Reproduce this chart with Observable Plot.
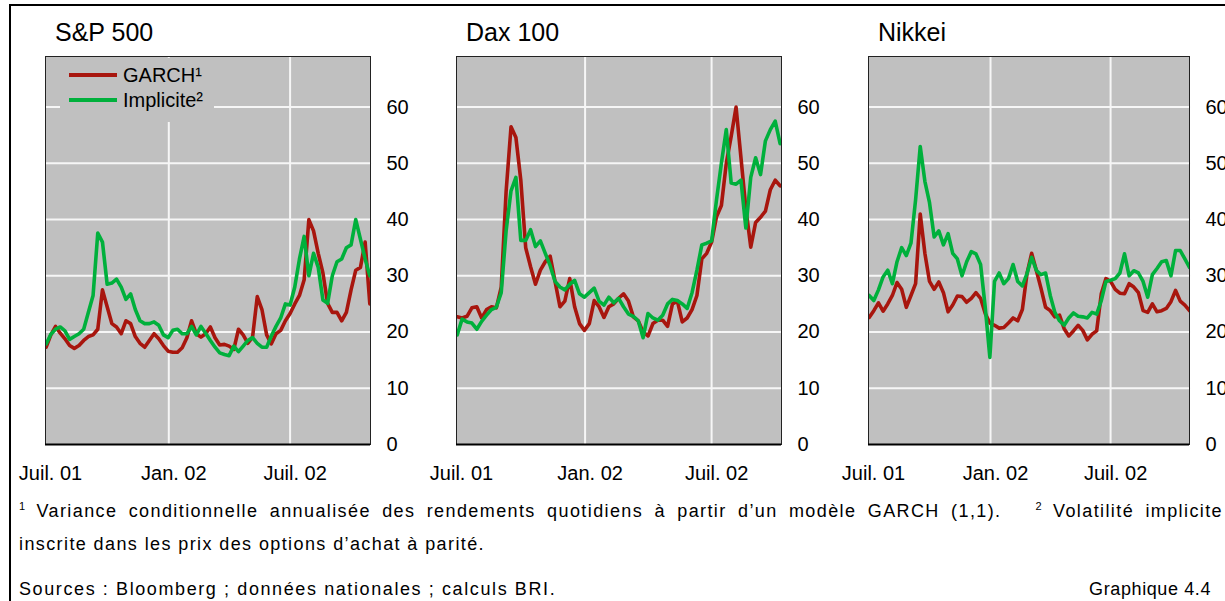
<!DOCTYPE html>
<html lang="fr">
<head>
<meta charset="utf-8">
<script src="https://cdn.jsdelivr.net/npm/d3@7"></script>
<script src="https://cdn.jsdelivr.net/npm/@observablehq/plot@0.6"></script>
<style>
  body { margin: 0; background: #fff; font-family: Arial, "Liberation Sans", sans-serif; color: #000; }
  #page { position: relative; width: 1225px; height: 601px; overflow: hidden; }
  .vline { position: absolute; left: 9px; top: 4px; width: 2px; height: 597px; background: #000; }
  .hline { position: absolute; left: 9px; top: 4px; width: 1216px; height: 2px; background: #000; }
  .panel { position: absolute; top: 0; }
  .panel svg { overflow: visible; max-width: none; display: block; }
  .title { position: absolute; top: 20px; font-size: 25px; line-height: 1; white-space: nowrap; }
  .legend { position: absolute; left: 60px; top: 58px; width: 154px; height: 64px; background: #c0c0c0; }
  .legend .row { position: absolute; left: 0; height: 24px; width: 154px; }
  .legend .sw { position: absolute; left: 9px; top: 10px; width: 48px; height: 4px; }
  .legend .lb { position: absolute; left: 63px; top: 0; font-size: 20px; line-height: 24px; white-space: nowrap; }
  .notes { position: absolute; left: 19px; top: 495px; width: 1204px; font-size: 18px;
           line-height: 33px; letter-spacing: 1.4px; }
  .notes sup { font-size: 11px; vertical-align: 7px; line-height: 0; letter-spacing: 0; }
  .l1 { text-align: justify; text-align-last: justify; white-space: nowrap; }
  .src { position: absolute; left: 19px; top: 573px; font-size: 18px; line-height: 33px; letter-spacing: 1.6px; }
  .ref { position: absolute; right: 14px; top: 573px; font-size: 18px; line-height: 33px; letter-spacing: 0.6px; }
</style>
</head>
<body>
<div id="page">
  <div class="vline"></div>
  <div class="hline"></div>
</div>
<script>
// Weekly observations, starting Monday 2 July 2001 (annualised volatility, %)
const firstWeek = "2001-07-02";

const spGarch = [17.3,19.5,21.0,19.8,18.8,17.6,17.1,17.6,18.5,19.2,
  19.5,20.5,27.5,24.5,21.5,20.9,19.7,22.0,21.5,19.2,
  18.0,17.3,18.5,19.7,18.8,17.6,16.6,16.4,16.4,17.2,
  19.0,22.0,19.7,19.1,19.7,20.9,19.0,17.7,17.8,17.5,
  16.9,20.5,19.5,18.0,19.1,26.3,24.0,19.5,17.9,19.7,
  20.3,22.0,23.3,25.0,26.5,29.3,40.0,38.0,34.0,30.5,
  25.1,23.5,23.5,22.0,23.5,27.5,31.0,31.5,36.0,25.0];
const spImplied = [17.9,19.6,20.5,20.9,20.2,18.7,19.2,19.7,20.5,23.5,
  26.5,37.6,36.0,28.5,28.7,29.4,28.0,25.8,26.8,24.0,
  22.0,21.5,21.5,21.8,21.2,19.5,19.0,20.3,20.5,19.7,
  19.7,21.0,19.5,21.0,19.8,18.5,17.3,16.3,16.0,15.8,
  17.5,16.5,17.5,18.5,19.0,18.0,17.3,17.3,19.3,21.0,
  22.5,25.0,24.8,28.0,33.0,37.0,30.0,34.0,31.5,25.7,
  25.1,30.0,32.5,33.0,35.0,35.5,40.0,36.5,33.0,30.0];

const daxGarch = [22.7,22.5,22.8,24.3,24.5,22.5,24.0,24.5,24.3,28.0,
  45.0,56.5,54.6,47.0,35.0,31.6,28.5,31.0,32.5,33.5,
  29.0,24.5,25.5,29.5,24.5,21.5,20.3,21.5,25.6,24.5,
  22.6,24.5,25.0,26.0,26.8,25.5,22.7,22.0,20.0,19.3,
  21.5,22.1,22.1,21.0,25.0,25.5,21.8,22.5,24.0,26.5,
  33.0,34.0,36.0,40.5,42.5,50.0,54.8,60.0,51.0,42.0,
  35.1,39.5,40.4,41.5,45.3,47.0,46.0];
const daxImplied = [19.5,22.3,21.8,21.6,20.5,21.9,23.0,24.0,24.4,27.0,
  38.0,45.1,47.5,36.3,36.3,38.2,35.2,36.2,34.0,31.8,
  29.0,28.0,27.5,28.5,29.2,26.8,26.2,27.0,27.8,25.5,
  24.8,26.2,25.2,26.0,24.5,23.2,22.8,22.0,19.0,23.3,
  22.5,22.1,23.0,25.0,25.8,25.6,25.0,24.2,27.0,31.0,
  35.5,35.8,36.2,43.5,50.0,56.0,46.5,46.3,47.0,38.5,
  47.5,51.0,48.0,54.0,56.0,57.5,53.5];

const nikGarch = [22.6,23.8,25.2,23.7,25.0,26.5,28.8,27.6,24.4,26.5,
  28.6,41.0,34.0,29.0,27.6,28.9,27.0,23.6,24.8,26.4,
  26.3,25.3,26.0,27.0,26.0,23.3,21.6,21.2,20.7,20.8,
  21.6,22.5,22.0,24.0,30.4,34.0,31.0,27.8,24.4,23.8,
  22.7,23.0,20.6,19.3,20.2,21.2,20.3,18.6,19.6,20.2,
  26.8,29.5,29.0,27.6,26.9,26.8,28.6,28.0,27.0,23.8,
  23.5,25.0,23.6,23.8,24.2,25.4,27.4,25.5,24.8,23.8];
const nikImplied = [26.5,25.6,27.5,29.8,31.0,28.6,32.5,35.0,33.6,35.8,
  43.5,53.0,46.8,43.0,36.9,38.0,35.5,37.5,34.0,33.0,
  30.0,32.5,34.3,33.9,32.0,24.4,15.5,29.0,30.5,28.6,
  29.5,32.0,29.0,28.2,30.4,33.3,31.0,30.2,30.5,26.5,
  23.5,22.0,21.2,22.5,23.4,22.8,22.7,22.5,23.5,23.2,
  25.6,29.0,29.2,29.5,30.5,33.9,30.0,30.9,30.5,29.0,
  26.2,30.2,31.3,32.5,32.7,30.0,34.5,34.5,33.0,31.5];

const panelTitles = ["S&P 500", "Dax 100", "Nikkei"];
const periodStart = "2001-07-01";
const periodEnds = ["2002-10-29", "2002-10-09", "2002-10-28"];
const tickDates = ["2001-07-01", "2002-01-01", "2002-07-01"];
const tickLabels = ["Juil. 01", "Jan. 02", "Juil. 02"];
const yTicks = [0, 10, 20, 30, 40, 50, 60];
const seriesNames = ["GARCH¹", "Implicite²"];

const colors = { garch: "#a8160e", implied: "#00b03c", grid: "#f6f6f6", panel: "#c0c0c0" };

const start = new Date(firstWeek);
const toRows = values => values.map((v, i) => ({ date: d3.utcDay.offset(start, 7 * i), value: v }));
const ticks = tickDates.map(d => new Date(d));
const labelOf = new Map(ticks.map((d, i) => [+d, tickLabels[i]]));

// horizontal grid as one short polyline per level, spanning the panel's date range
const gridRows = domain => yTicks.filter(v => v > 0)
  .flatMap(v => domain.map(d => ({ level: v, date: d })));

const panels = [
  { garch: spGarch, implied: spImplied, left: 0, plotW: 325 },
  { garch: daxGarch, implied: daxImplied, left: 411, plotW: 325 },
  { garch: nikGarch, implied: nikImplied, left: 823, plotW: 321 }
];

const page = document.getElementById("page");

panels.forEach((p, k) => {
  const mL = 45, mR = 41, W = mL + p.plotW + mR;
  const xDomain = [new Date(periodStart), new Date(periodEnds[k])];
  const chart = Plot.plot({
    width: W,
    height: 490,
    marginLeft: mL, marginRight: mR, marginTop: 56, marginBottom: 46,
    style: { fontFamily: "Arial", fontSize: "20px", color: "#000", background: "transparent" },
    x: { type: "utc", domain: xDomain },
    y: { domain: [0, 69] },
    marks: [
      Plot.frame({ fill: colors.panel, stroke: "none" }),
      Plot.ruleX(ticks.slice(1), { stroke: colors.grid, strokeWidth: 2 }),
      Plot.line(gridRows(xDomain), { x: "date", y: "level", z: "level", stroke: colors.grid, strokeWidth: 2 }),
      Plot.line(toRows(p.garch), { x: "date", y: "value", stroke: colors.garch, strokeWidth: 3.6, clip: true }),
      Plot.line(toRows(p.implied), { x: "date", y: "value", stroke: colors.implied, strokeWidth: 3.6, clip: true }),
      Plot.frame({ stroke: "#222", strokeWidth: 1, fill: "none" }),
      Plot.ruleY([0], { stroke: "#000", strokeWidth: 2 }),
      Plot.axisX(ticks, { tickSize: 0, tickPadding: 21, dx: 5, label: null, fontSize: 20,
                          tickFormat: d => labelOf.get(+d) }),
      Plot.axisY(yTicks, { anchor: "right", tickSize: 0, tickPadding: 16, label: null, fontSize: 20 })
    ]
  });

  const holder = document.createElement("div");
  holder.className = "panel";
  holder.style.left = p.left + "px";
  holder.appendChild(chart);

  const title = document.createElement("div");
  title.className = "title";
  title.style.left = (mL + 10) + "px";
  title.textContent = panelTitles[k];
  holder.appendChild(title);

  if (k === 0) {
    const legend = document.createElement("div");
    legend.className = "legend";
    [colors.garch, colors.implied].forEach((c, i) => {
      const row = document.createElement("div");
      row.className = "row";
      row.style.top = (5 + 25 * i) + "px";
      row.innerHTML = `<div class="sw" style="background:${c}"></div><div class="lb">${seriesNames[i]}</div>`;
      legend.appendChild(row);
    });
    holder.appendChild(legend);
  }
  page.appendChild(holder);
});

const notes = document.createElement("div");
notes.className = "notes";
notes.innerHTML =
  '<div class="l1"><sup>1</sup> Variance conditionnelle annualisée des rendements quotidiens à partir d’un modèle GARCH (1,1). &nbsp;&nbsp;<sup>2</sup> Volatilité implicite</div>' +
  '<div>inscrite dans les prix des options d’achat à parité.</div>';
page.appendChild(notes);

const src = document.createElement("div");
src.className = "src";
src.textContent = "Sources : Bloomberg ; données nationales ; calculs BRI.";
page.appendChild(src);

const ref = document.createElement("div");
ref.className = "ref";
ref.textContent = "Graphique 4.4";
page.appendChild(ref);
</script>
</body>
</html>
